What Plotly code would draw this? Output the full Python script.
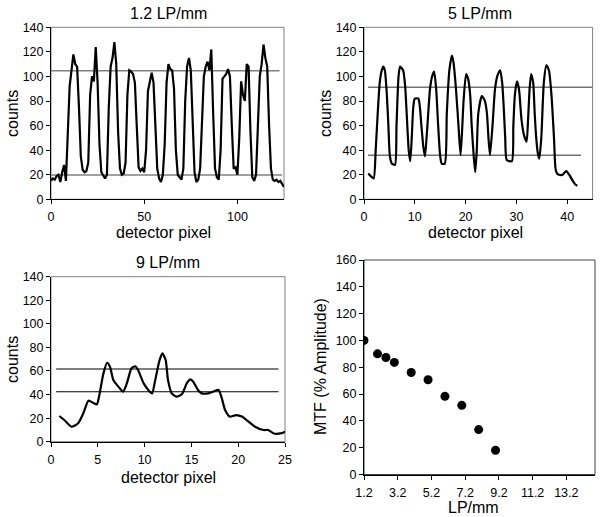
import plotly.graph_objects as go

# ---------------- data ----------------
# Panel 1: 1.2 LP/mm
p1_x = list(range(0, 126))
p1_y = [15, 17, 16, 19, 20, 14, 22, 28, 15, 50,
        92, 105, 118, 110, 108, 75, 35, 24, 22, 23,
        30, 85, 100, 96, 124, 95, 45, 22, 20, 17,
        20, 75, 108, 115, 128, 110, 55, 25, 20, 21,
        30, 85, 105, 104, 102, 95, 60, 26, 23, 25,
        22, 40, 88, 95, 103, 95, 60, 25, 17, 14,
        20, 45, 95, 110, 106, 105, 90, 40, 20, 18,
        16, 25, 80, 108, 115, 105, 60, 22, 14, 16,
        25, 60, 100, 108, 112, 105, 122, 70, 25, 18,
        16, 40, 98, 100, 102, 106, 100, 60, 25, 26,
        20, 50, 96, 85, 80, 110, 108, 55, 18, 15,
        20, 60, 100, 110, 126, 115, 108, 60, 25, 16,
        15, 16, 14, 15, 12, 10]
p1_levels = [104.7, 19.8]
p1_level_x0 = [0, 0]
p1_level_x1 = [122.6, 124]

# Panel 2: 5 LP/mm
p2_x = [0.85, 1.3, 1.9, 2.3, 2.7, 3.1, 3.5, 3.8, 4.1, 4.5, 4.8, 5.1, 5.5, 6.1,
        6.4, 6.8, 7.1, 7.7, 8.1, 8.4, 8.8, 9.1, 9.4, 9.7, 10.0, 10.7, 11.0,
        11.3, 11.7, 12.0, 12.4, 13.0, 13.4, 13.8, 14.2, 14.6, 15.0, 15.3, 15.9,
        16.3, 16.8, 17.3, 17.6, 18.1, 18.6, 19.0, 19.3, 19.6, 20.1, 20.5, 20.9,
        21.2, 21.6, 21.9, 22.2, 22.5, 23.2, 23.8, 24.2, 24.5, 24.8, 25.3, 25.8,
        26.3, 26.8, 27.2, 27.5, 27.8, 28.1, 29.1, 29.4, 29.7, 30.1, 30.5, 31.0,
        31.5, 32.0, 32.3, 32.6, 32.9, 33.3, 33.6, 33.9, 34.2, 34.5, 34.9, 35.4,
        35.9, 36.4, 36.9, 37.4, 37.7, 38.0, 38.4, 39.1, 39.8, 40.4, 41.1, 41.6, 42.0]
p2_y = [21, 19, 17, 40, 70, 95, 105, 108, 105, 85, 60, 35, 29, 28,
        60, 100, 108, 105, 92, 70, 40, 31, 50, 75, 82, 82, 75,
        60, 42, 35, 55, 90, 100, 104, 90, 60, 35, 29, 29,
        70, 105, 117, 112, 90, 60, 36, 55, 80, 102, 98, 85,
        60, 35, 22, 40, 70, 84, 80, 70, 50, 36, 60, 90,
        101, 105, 95, 75, 50, 32, 31, 60, 85, 96, 90, 65,
        52, 47, 65, 90, 102, 95, 70, 50, 38, 33, 50, 95,
        109, 105, 85, 50, 25, 21, 20, 20, 23, 20, 15, 12, 11]
p2_levels = [91.2, 35.8]
p2_level_x0 = [0.8, 0.8]
p2_level_x1 = [45, 42.7]

# Panel 3: 9 LP/mm
p3_x = [0.9, 1.5, 2.2, 2.9, 3.45, 4.0, 4.5, 4.9, 5.2, 5.6, 6.0, 6.3, 6.66, 7.2,
        7.7, 8.1, 8.6, 9.0, 9.3, 9.9, 10.4, 10.8, 11.1, 11.6, 11.9, 12.25, 12.5,
        12.9, 13.4, 14.0, 14.5, 14.9, 15.2, 15.7, 16.1, 16.8, 17.3, 17.9, 18.2,
        18.6, 19.1, 19.8, 20.4, 21.1, 21.8, 22.7, 23.2, 23.8, 24.5, 25.0]
p3_y = [21.8, 17.8, 12.7, 15.6, 24, 34.8, 33, 31.7, 41, 58, 67, 63.6, 52.4, 46.7,
        42.4, 49.5, 62.3, 64, 60.8, 49.5, 43.9, 41, 50.9, 69.3, 75, 69.3, 52.4,
        41, 38.2, 40.5, 49.5, 52.9, 50.9, 43.9, 41, 41, 42.4, 43.9, 38.2,
        26.9, 21.3, 22.6, 21.3, 17, 12.7, 9.9, 9.9, 7, 7, 8.5]
p3_levels = [61.7, 42.4]
p3_level_x0 = [0.55, 0.55]
p3_level_x1 = [24.3, 24.3]

# Panel 4: MTF
mtf_lp = [1.2, 2, 2.5, 3, 4, 5, 6, 7, 8, 9]
mtf_amp = [100, 90, 87.3, 83.6, 76.1, 70.7, 58.3, 51.6, 33.5, 18.1]
mtf_ticks = [1.2, 3.2, 5.2, 7.2, 9.2, 11.2, 13.2]

titles = ["1.2 LP/mm", "5 LP/mm", "9 LP/mm"]

# ---------------- figure ----------------
W, H = 600, 517
FONT = "Liberation Sans, Arial, sans-serif"

def px_x(v):
    return v / W

def px_y(v):
    return 1 - v / H

fig = go.Figure()

panels = [
    ("x", "y", (51, 284), (27.3, 199.3)),
    ("x2", "y2", (364, 592.6), (27.3, 199.3)),
    ("x3", "y3", (51, 285), (276.7, 441.7)),
    ("x4", "y4", (364, 595), (260, 474.5)),
]

series = [(p1_x, p1_y, p1_levels, p1_level_x0, p1_level_x1, "#808080", 1.5, "linear"),
          (p2_x, p2_y, p2_levels, p2_level_x0, p2_level_x1, "#707070", 1.5, "spline"),
          (p3_x, p3_y, p3_levels, p3_level_x0, p3_level_x1, "#000000", 1.2, "spline")]

for i, (xs, ys, levels, lx0, lx1, lcol, lw, shape) in enumerate(series):
    xa, ya = panels[i][0], panels[i][1]
    for lv, a, b in zip(levels, lx0, lx1):
        fig.add_trace(go.Scatter(x=[a, b], y=[lv, lv], mode="lines",
                                 line=dict(color=lcol, width=lw),
                                 xaxis=xa, yaxis=ya, showlegend=False, hoverinfo="skip"))
    fig.add_trace(go.Scatter(x=xs, y=ys, mode="lines",
                             line=dict(color="black", width=2.2, shape=shape,
                                       smoothing=0.6 if shape == "spline" else None),
                             xaxis=xa, yaxis=ya, showlegend=False))

fig.add_trace(go.Scatter(x=mtf_lp, y=mtf_amp, mode="markers",
                         marker=dict(color="black", size=9),
                         xaxis="x4", yaxis="y4", showlegend=False))

tickfont = dict(family=FONT, size=12.5, color="black")
common_ax = dict(showgrid=False, zeroline=False, showline=True, linecolor="black",
                 linewidth=1, ticks="outside", ticklen=4, tickcolor="black",
                 tickfont=tickfont, mirror=False, automargin=False)

xranges = [[0, 125], [0, 45], [0, 25], [1.2, 14.9]]
xdticks = [50, 10, 5, None]
yranges = [[0, 140], [0, 140], [0, 140], [0, 160]]

layout = dict(width=W, height=H, margin=dict(l=0, r=0, t=0, b=0),
              paper_bgcolor="white", plot_bgcolor="white",
              font=dict(family=FONT, color="black"))

for i, (xa, ya, (x0, x1), (yt, yb)) in enumerate(panels):
    xname = "xaxis" if xa == "x" else "xaxis" + xa[1:]
    yname = "yaxis" if ya == "y" else "yaxis" + ya[1:]
    xd = dict(common_ax, domain=[px_x(x0), px_x(x1)], range=xranges[i], anchor=ya,
              ticklabelstandoff=2)
    if xdticks[i] is not None:
        xd.update(tickmode="linear", tick0=0, dtick=xdticks[i])
    else:
        xd.update(tickmode="array", tickvals=mtf_ticks,
                  ticktext=[f"{v:.1f}" for v in mtf_ticks])
    yd = dict(common_ax, domain=[px_y(yb), px_y(yt)], range=yranges[i], anchor=xa,
              tickmode="linear", tick0=0, dtick=20)
    layout[xname] = xd
    layout[yname] = yd

fig.update_layout(**layout)

frame_cols = ["#808080", "#808080", "#808080", "#404040"]
for i, (xa, ya, (x0, x1), (yt, yb)) in enumerate(panels):
    fig.add_shape(type="rect", xref="paper", yref="paper",
                  x0=px_x(x0), x1=px_x(x1), y0=px_y(yb), y1=px_y(yt),
                  line=dict(color=frame_cols[i], width=1), layer="below")

tfont = dict(family=FONT, size=16, color="black")
ann = [
    (titles[0], 168, 13, 0),
    (titles[1], 480, 13, 0),
    (titles[2], 168, 262, 0),
    ("detector pixel", 163, 233, 0),
    ("detector pixel", 475, 233, 0),
    ("detector pixel", 168, 477, 0),
    ("LP/mm", 473, 508, 0),
    ("counts", 12, 114, -90),
    ("counts", 325, 114, -90),
    ("counts", 12, 360, -90),
    ("MTF (% Amplitude)", 320, 367, -90),
]
for text, x, y, ang in ann:
    fig.add_annotation(text=text, x=px_x(x), y=px_y(y), xref="paper", yref="paper",
                       showarrow=False, textangle=ang, font=tfont,
                       xanchor="center", yanchor="middle")

fig.write_html("out.html", config={"displayModeBar": False},
               post_script="document.body.style.margin='0';document.body.style.padding='0';")
